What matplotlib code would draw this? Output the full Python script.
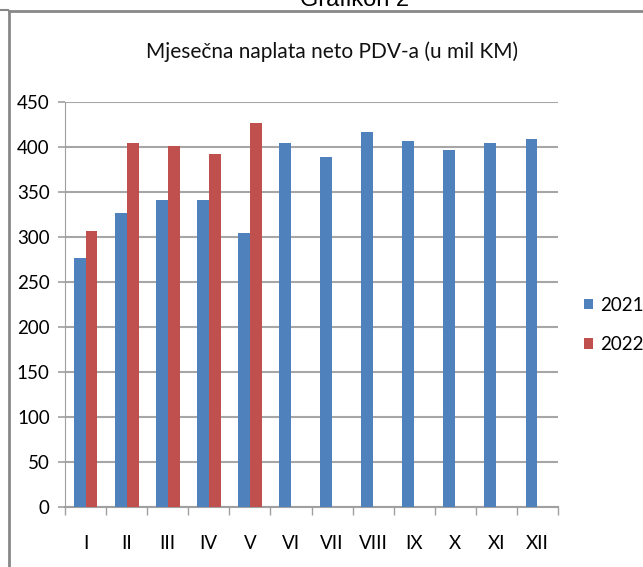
import numpy as np
import matplotlib.pyplot as plt
from matplotlib.lines import Line2D

months = ['I', 'II', 'III', 'IV', 'V', 'VI', 'VII', 'VIII', 'IX', 'X', 'XI', 'XII']
vals_2021 = [277, 327, 341, 341, 304, 404, 389, 417, 407, 397, 404, 409]
vals_2022 = [307, 404, 401, 392, 427]
yticks = [0, 50, 100, 150, 200, 250, 300, 350, 400, 450]

plt.rcParams['font.family'] = ['Lato', 'DejaVu Sans']

fig = plt.figure(figsize=(6.43, 5.67), dpi=100)
ax = fig.add_axes([65 / 643, 1 - 507 / 567, 493 / 643, 405 / 567])

x = np.arange(len(months))
w = 0.29
ax.bar(x - w / 2, vals_2021, w, color='#4F81BD', label='2021', zorder=3)
ax.bar(np.arange(len(vals_2022)) + w / 2, vals_2022, w, color='#C0504D', label='2022', zorder=3)

ax.set_xlim(-0.5, len(months) - 0.5)
ax.set_ylim(0, 450)
ax.set_yticks(yticks)
ax.set_xticks(x)
ax.set_xticklabels(months)
ax.set_xticks(np.arange(len(months) + 1) - 0.5, minor=True)
ax.tick_params(axis='x', which='major', length=0, pad=20, labelsize=13.5)
ax.tick_params(axis='x', which='minor', length=6, color='#a0a0a0', width=1)
ax.tick_params(axis='y', length=5, color='#a0a0a0', width=1.2, pad=6, labelsize=13.5)
ax.grid(axis='y', color='#a6a6a6', linewidth=1.5, zorder=0)
for s in ['top', 'right']:
    ax.spines[s].set_visible(False)
ax.spines['left'].set_color('#a0a0a0')
ax.spines['bottom'].set_color('#a0a0a0')
ax.spines['bottom'].set_linewidth(1.5)

fig.text(332 / 643, 1 - 52 / 567, 'Mjesečna naplata neto PDV-a (u mil KM)',
         ha='center', va='center', fontsize=15, color='#111111')
fig.text(355 / 643, 1 - 6 / 567, 'Grafikon 2', ha='center', va='baseline',
         fontsize=17, family=['Liberation Sans', 'DejaVu Sans'])

fig.legend(loc='center left', bbox_to_anchor=(584 / 643, 1 - 325 / 567),
           frameon=False, fontsize=13.5, handlelength=0.5, handleheight=0.5,
           handletextpad=0.35, labelspacing=1.2, borderaxespad=0, borderpad=0)

# chart border
fig.add_artist(Line2D([9 / 643, 1], [1 - 11 / 567, 1 - 11 / 567], color='#888888', lw=2))
fig.add_artist(Line2D([9 / 643, 9 / 643], [0, 1 - 11 / 567], color='#888888', lw=2))
fig.add_artist(Line2D([0, 8 / 643], [1 - 10 / 567, 1 - 10 / 567], color='#888888', lw=1.5))

fig.savefig('out.png', dpi=100)
